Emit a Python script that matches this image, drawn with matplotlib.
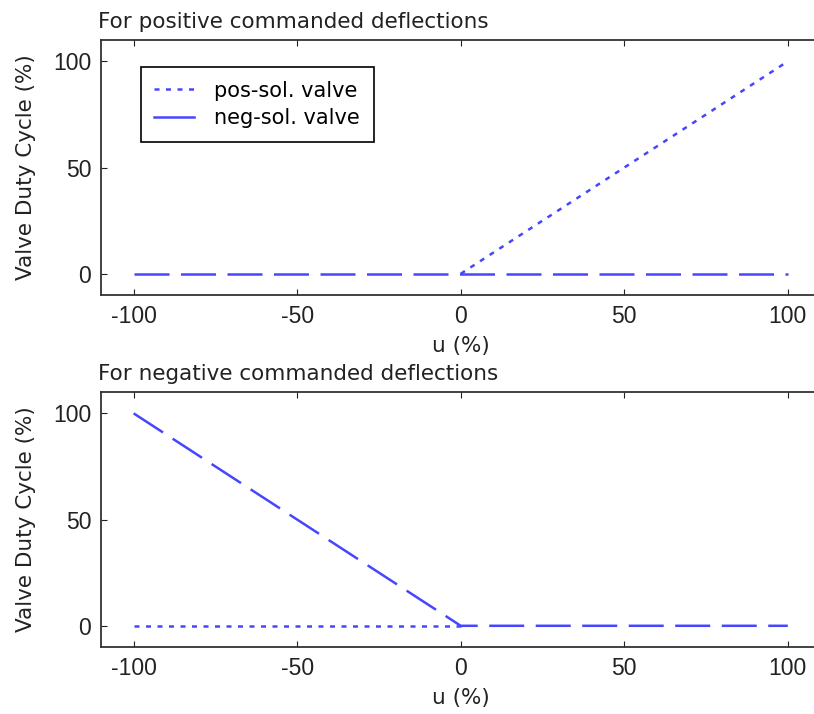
import matplotlib
matplotlib.use('Agg')
import matplotlib.pyplot as plt
import numpy as np

# commanded deflection (%) and valve duty cycles (%)
# (segments hidden under the other line in the original are left out)
u = [-100, 0, 100]
pos_top = [np.nan, 0, 100]
neg_top = [0, 0, 0]
pos_bot = [0, 0, np.nan]
neg_bot = [100, 0, 0]

titles = ["For positive commanded deflections", "For negative commanded deflections"]
xticks = [-100, -50, 0, 50, 100]
yticks = [0, 50, 100]

plt.rcParams['font.family'] = ['DejaVu Sans']
plt.rcParams['axes.unicode_minus'] = False

BLUE = '#4646ff'
TICKFONT = {'family': 'Liberation Sans', 'size': 16.5}

fig = plt.figure(figsize=(8.14, 7.14), dpi=100)
ax1 = fig.add_axes([0.124, 0.5868, 0.884, 0.357])
ax2 = fig.add_axes([0.124, 0.0938, 0.884, 0.357])

for ax, pos, neg, title in [(ax1, pos_top, neg_top, titles[0]), (ax2, pos_bot, neg_bot, titles[1])]:
	ax.plot(u, pos, color=BLUE, lw=1.8, dashes=(2, 2.6), label='pos-sol. valve')
	ax.plot(u, neg, color=BLUE, lw=1.8, dashes=(14, 4.6), label='neg-sol. valve')
	ax.set_xlim(-110, 110)
	ax.set_ylim(-10, 110)
	ax.set_xticks(xticks)
	ax.set_yticks(yticks)
	ax.set_xticklabels([str(t) for t in xticks], fontdict=TICKFONT)
	ax.set_yticklabels([str(t) for t in yticks], fontdict=TICKFONT)
	ax.tick_params(direction='in', top=True, right=True, length=4.5, pad=7, colors='#222222')
	for s in ax.spines.values():
		s.set_linewidth(1.3)
		s.set_color('#333333')
	ax.set_xlabel('u (%)', fontsize=15.5, labelpad=6, color='#222222')
	ax.set_ylabel('Valve Duty Cycle (%)', fontsize=15.5, labelpad=12, color='#222222')
	ax.set_title(title, fontsize=15.5, loc='left', pad=9, x=-0.004, color='#222222')

leg = ax1.legend(loc='upper left', bbox_to_anchor=(0.055, 0.894), borderaxespad=0, fontsize=15,
	fancybox=False, edgecolor='black', framealpha=1, handlelength=1.9, handletextpad=1.0,
	borderpad=0.65, labelspacing=0.35)
leg.get_frame().set_linewidth(1.2)
leg.legend_handles[1].set_dashes([])

fig.savefig('out.png', dpi=100)
